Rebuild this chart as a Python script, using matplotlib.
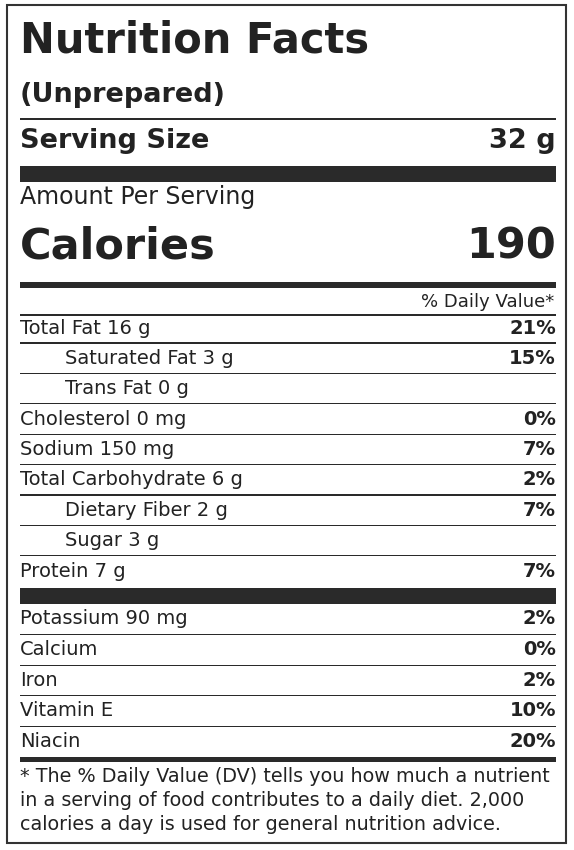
import matplotlib
matplotlib.use("Agg")
import matplotlib.pyplot as plt

plt.rcParams['font.family'] = ['DejaVu Sans']

title = "Nutrition Facts"
subtitle = "(Unprepared)"
serving = "32 g"
calories = "190"
nutrients = ["Total Fat 16 g", "Saturated Fat 3 g", "Trans Fat 0 g", "Cholesterol 0 mg",
             "Sodium 150 mg", "Total Carbohydrate 6 g", "Dietary Fiber 2 g", "Sugar 3 g", "Protein 7 g"]
nutrient_dv = ["21%", "15%", "", "0%", "7%", "2%", "7%", "", "7%"]
indented = [False, True, True, False, False, False, True, True, False]
minerals = ["Potassium 90 mg", "Calcium", "Iron", "Vitamin E", "Niacin"]
mineral_dv = ["2%", "0%", "2%", "10%", "20%"]
footnote = ["* The % Daily Value (DV) tells you how much a nutrient",
            "in a serving of food contributes to a daily diet. 2,000",
            "calories a day is used for general nutrition advice."]

fig = plt.figure(figsize=(5.74, 8.5), dpi=100)
ax = fig.add_axes([0, 0, 1, 1])
ax.set_xlim(0, 574); ax.set_ylim(850, 0); ax.axis('off')
tc = '#222222'
L, R = 20, 556

ax.add_patch(plt.Rectangle((7, 5), 559, 838, fill=False, lw=1.5, ec='#333333'))

def hline(y, h):
    ax.add_patch(plt.Rectangle((L, y - h / 2), R - L, h, color='#2a2a2a', lw=0))

def txt(x, y, s, size, bold=False, ha='left'):
    ax.text(x, y, s, fontsize=size, fontweight='bold' if bold else 'normal',
            ha=ha, va='center', color=tc)

txt(L, 40, title, 30, True)
txt(L, 95, subtitle, 19.5, True)
hline(119, 1.5)
txt(L, 141, "Serving Size", 19.5, True)
txt(R, 141, serving, 19.5, True, 'right')
hline(174, 16)
txt(L, 197, "Amount Per Serving", 17)
txt(L, 246, "Calories", 31, True)
txt(R, 246, calories, 31, True, 'right')
hline(285, 6)
txt(R - 2, 302, "% Daily Value*", 13, ha='right')
hline(315, 1.2)

y = 328
for i, (n, d, ind) in enumerate(zip(nutrients, nutrient_dv, indented)):
    txt(65 if ind else L, y, n, 14)
    if d:
        txt(R, y, d, 14, True, 'right')
    if i < len(nutrients) - 1:
        hline(y + 15, 1.2)
    y += 30.4
hline(596, 16)
y = 619
for i, (n, d) in enumerate(zip(minerals, mineral_dv)):
    txt(L, y, n, 14)
    txt(R, y, d, 14, True, 'right')
    if i < len(minerals) - 1:
        hline(y + 15.5, 1.2)
    y += 30.6
hline(759, 5)
for i, s in enumerate(footnote):
    txt(L, 777 + i * 24, s, 13.8)

fig.savefig("out.png", dpi=100)
